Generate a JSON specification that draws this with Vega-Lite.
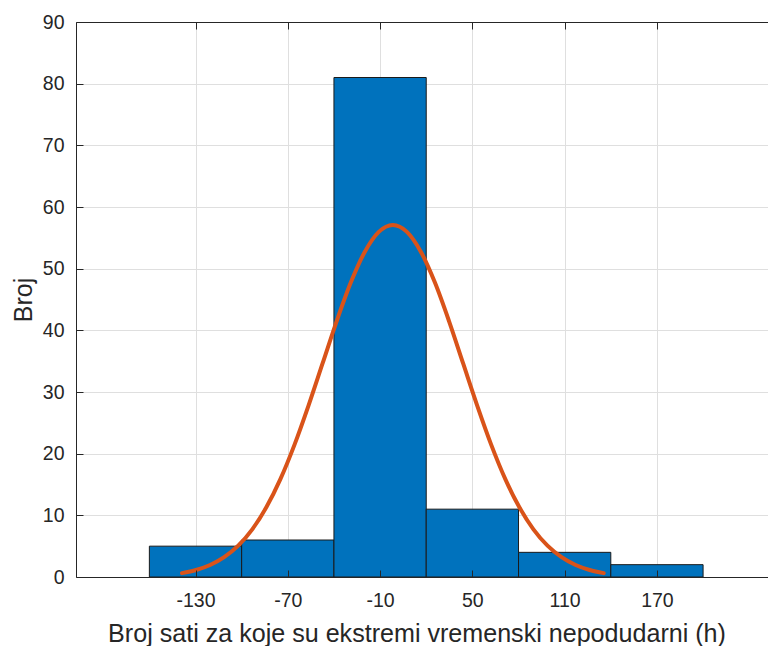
{
  "$schema": "https://vega.github.io/schema/vega-lite/v6.json",
  "width": 692,
  "height": 555,
  "autosize": {"type": "none"},
  "padding": {"left": 76, "top": 22, "right": 0, "bottom": 69},
  "config": {
    "view": {"stroke": null},
    "font": "Liberation Sans",
    "axis": {
      "labelFont": "Liberation Sans",
      "titleFont": "Liberation Sans",
      "labelColor": "#262626",
      "titleColor": "#262626",
      "domainColor": "#262626",
      "tickColor": "#262626",
      "gridColor": "#dfdfdf",
      "labelFontSize": 19.5,
      "titleFontSize": 25.1,
      "titleFontWeight": "normal"
    }
  },
  "datasets": {
    "bins": [
      {"start": -160, "end": -100, "count": 5},
      {"start": -100, "end": -40, "count": 6},
      {"start": -40, "end": 20, "count": 81},
      {"start": 20, "end": 80, "count": 11},
      {"start": 80, "end": 140, "count": 4},
      {"start": 140, "end": 200, "count": 2}
    ],
    "fit": [
      {"x": -138.8, "y": 0.63},
      {"x": -129.66, "y": 1.13},
      {"x": -120.52, "y": 1.94},
      {"x": -111.38, "y": 3.21},
      {"x": -102.24, "y": 5.08},
      {"x": -93.1, "y": 7.73},
      {"x": -83.96, "y": 11.3},
      {"x": -74.82, "y": 15.87},
      {"x": -65.68, "y": 21.43},
      {"x": -56.54, "y": 27.8},
      {"x": -47.4, "y": 34.63},
      {"x": -38.26, "y": 41.46},
      {"x": -29.12, "y": 47.7},
      {"x": -19.98, "y": 52.71},
      {"x": -10.84, "y": 55.97},
      {"x": -1.7, "y": 57.1},
      {"x": 7.44, "y": 55.97},
      {"x": 16.58, "y": 52.71},
      {"x": 25.72, "y": 47.7},
      {"x": 34.86, "y": 41.46},
      {"x": 44.0, "y": 34.63},
      {"x": 53.14, "y": 27.8},
      {"x": 62.28, "y": 21.43},
      {"x": 71.42, "y": 15.87},
      {"x": 80.56, "y": 11.3},
      {"x": 89.7, "y": 7.73},
      {"x": 98.84, "y": 5.08},
      {"x": 107.98, "y": 3.21},
      {"x": 117.12, "y": 1.94},
      {"x": 126.26, "y": 1.13},
      {"x": 135.4, "y": 0.63}
    ]
  },
  "layer": [
    {
      "data": {"name": "bins"},
      "mark": {"type": "bar", "color": "#0072BD", "stroke": "#1a1a1a", "strokeWidth": 1},
      "encoding": {
        "x": {
          "field": "start",
          "type": "quantitative",
          "scale": {"domain": [-207.7, 242.2], "nice": false, "zero": false, "padding": 0},
          "axis": {
            "orient": "top",
            "grid": true,
            "labels": false,
            "ticks": true,
            "tickSize": -7,
            "domain": true,
            "title": null,
            "values": [-130, -70, -10, 50, 110, 170],
            "zindex": 0
          }
        },
        "x2": {"field": "end"},
        "y": {
          "field": "count",
          "type": "quantitative",
          "scale": {"domain": [0, 90], "nice": false, "zero": true, "padding": 0},
          "axis": {
            "orient": "right",
            "grid": true,
            "labels": false,
            "ticks": false,
            "domain": false,
            "title": null,
            "values": [0, 10, 20, 30, 40, 50, 60, 70, 80, 90],
            "zindex": 0
          }
        },
        "y2": {"datum": 0}
      }
    },
    {
      "data": {"name": "fit"},
      "mark": {"type": "line", "color": "#D95319", "strokeWidth": 4, "strokeCap": "round", "interpolate": "monotone"},
      "encoding": {
        "x": {
          "field": "x",
          "type": "quantitative",
          "axis": {
            "orient": "bottom",
            "grid": false,
            "values": [-130, -70, -10, 50, 110, 170],
            "labelExpr": "datum.value < 0 ? '-' + abs(datum.value) : '' + datum.value",
            "tickSize": -7,
            "labelPadding": 21,
            "title": "Broj sati za koje su ekstremi vremenski nepodudarni (h)",
            "titleX": 340.5,
            "titleY": 64,
            "titleAlign": "center",
            "titleBaseline": "alphabetic",
            "zindex": 1
          }
        },
        "y": {
          "field": "y",
          "type": "quantitative",
          "axis": {
            "orient": "left",
            "grid": false,
            "values": [0, 10, 20, 30, 40, 50, 60, 70, 80, 90],
            "tickSize": -7,
            "labelPadding": 19,
            "title": "Broj",
            "titleFontSize": 25,
            "titleX": -44.3,
            "titleY": 277.5,
            "titleAlign": "center",
            "titleBaseline": "alphabetic",
            "zindex": 1
          }
        }
      }
    }
  ],
  "resolve": {"axis": {"x": "independent", "y": "independent"}}
}
